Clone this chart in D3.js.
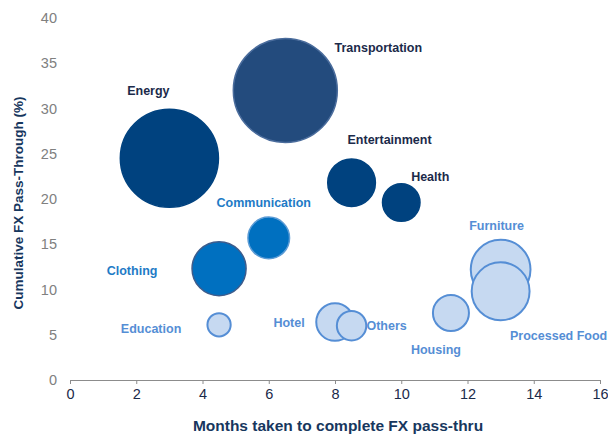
<!DOCTYPE html>
<html>
<head>
<meta charset="utf-8">
<script src="https://cdn.jsdelivr.net/npm/d3@7"></script>
<style>
  body { margin: 0; background: #fff; }
  text { font-family: "Liberation Sans", Arial, sans-serif; }
</style>
</head>
<body>
<div id="chart"></div>
<script>
// data
const categories = ["Energy", "Transportation", "Entertainment", "Health", "Communication", "Clothing",
                    "Education", "Housing", "Hotel", "Others", "Furniture", "Processed Food"];
const months     = [3.0, 6.5, 8.5, 10.0, 6.0, 4.5, 4.5, 11.5, 8.0, 8.5, 13.0, 13.0];
const passThru   = [24.5, 32.0, 21.8, 19.6, 15.7, 12.3, 6.1, 7.4, 6.4, 6.0, 12.2, 9.8];
const weight     = [8.9, 10, 2.1, 1.3, 1.6, 2.7, 0.5, 1.2, 1.3, 0.8, 3.3, 3.1];
const group      = ["dark", "dark", "dark", "dark", "mid", "mid", "light", "light", "light", "light", "light", "light"];
const xTicks = [0, 2, 4, 6, 8, 10, 12, 14, 16];
const yTicks = [0, 5, 10, 15, 20, 25, 30, 35, 40];

// label placement relative to bubble centre (px)
const labelOffset = {
  "Energy": [-21, -68], "Transportation": [93, -43], "Entertainment": [38, -43],
  "Health": [29, -26], "Communication": [-5, -35], "Clothing": [-87, 2],
  "Education": [-68, 4], "Hotel": [-46, 1], "Others": [35, 0],
  "Housing": [-15, 37], "Furniture": [-4, -44], "Processed Food": [58, 44]
};

const palette = {
  dark:  { fill: "#00427F", stroke: "#00427F", text: "#1B2A4A" },
  mid:   { fill: "#0070C0", stroke: "#5B9BD5", text: "#1E7BC6" },
  light: { fill: "#C6D9F1", stroke: "#558ED5", text: "#558ED5" }
};
const special = {
  "Transportation": { fill: "#234B7D", stroke: "#4A6C9C" },
  "Clothing": { fill: "#0070C0", stroke: "#3D5C8C" }
};

const width = 608, height = 434;
const margin = { top: 18, right: 8, bottom: 54, left: 70 };

const svg = d3.select("#chart").append("svg")
    .attr("width", width)
    .attr("height", height);

const x = d3.scaleLinear().domain([0, 16]).range([margin.left, width - margin.right]);
const y = d3.scaleLinear().domain([0, 40]).range([height - margin.bottom, margin.top]);
const r = d3.scaleSqrt().domain([0, 10]).range([0, 52]);

const data = categories.map((name, i) => ({
  name, m: months[i], p: passThru[i], w: weight[i], g: group[i]
}));

// x axis
const xAxis = svg.append("g")
    .attr("transform", `translate(0,${y(0)})`)
    .call(d3.axisBottom(x).tickValues(xTicks).tickSize(4).tickSizeOuter(0).tickPadding(5));
xAxis.select(".domain").attr("stroke", "#8C8C8C");
xAxis.selectAll(".tick line").attr("stroke", "#8C8C8C");
xAxis.selectAll(".tick text")
    .attr("fill", "#1B2A4A")
    .style("font-size", "14.5px")
    .style("font-family", "'Liberation Sans', Arial, sans-serif");

// y axis (labels only)
const yAxis = svg.append("g")
    .attr("transform", `translate(${margin.left - 3},0)`)
    .call(d3.axisLeft(y).tickValues(yTicks).tickSize(0).tickPadding(10));
yAxis.select(".domain").remove();
yAxis.selectAll(".tick text")
    .attr("fill", "#808080")
    .style("font-size", "14.5px")
    .style("font-family", "'Liberation Sans', Arial, sans-serif");

// bubbles
svg.selectAll(".bubble")
    .data(data)
    .enter().append("circle")
    .attr("class", "bubble")
    .attr("cx", d => x(d.m))
    .attr("cy", d => y(d.p))
    .attr("r", d => r(d.w))
    .attr("fill", d => (special[d.name] || palette[d.g]).fill)
    .attr("stroke", d => (special[d.name] || palette[d.g]).stroke)
    .attr("stroke-width", d => d.g === "light" ? 2 : 1.5);

// labels
svg.selectAll(".label")
    .data(data)
    .enter().append("text")
    .attr("class", "label")
    .attr("x", d => x(d.m) + labelOffset[d.name][0])
    .attr("y", d => y(d.p) + labelOffset[d.name][1])
    .attr("dy", "0.35em")
    .attr("text-anchor", "middle")
    .attr("fill", d => palette[d.g].text)
    .style("font-size", "12.5px")
    .style("font-weight", "bold")
    .text(d => d.name);

// axis titles
svg.append("text")
    .attr("x", 338)
    .attr("y", 426)
    .attr("dy", "0.35em")
    .attr("text-anchor", "middle")
    .attr("fill", "#17375E")
    .style("font-size", "15.5px")
    .style("font-weight", "bold")
    .text("Months taken to complete FX pass-thru");

svg.append("text")
    .attr("transform", "translate(18,203) rotate(-90)")
    .attr("dy", "0.35em")
    .attr("text-anchor", "middle")
    .attr("fill", "#17375E")
    .style("font-size", "13.5px")
    .style("font-weight", "bold")
    .text("Cumulative FX Pass-Through (%)");
</script>
</body>
</html>
